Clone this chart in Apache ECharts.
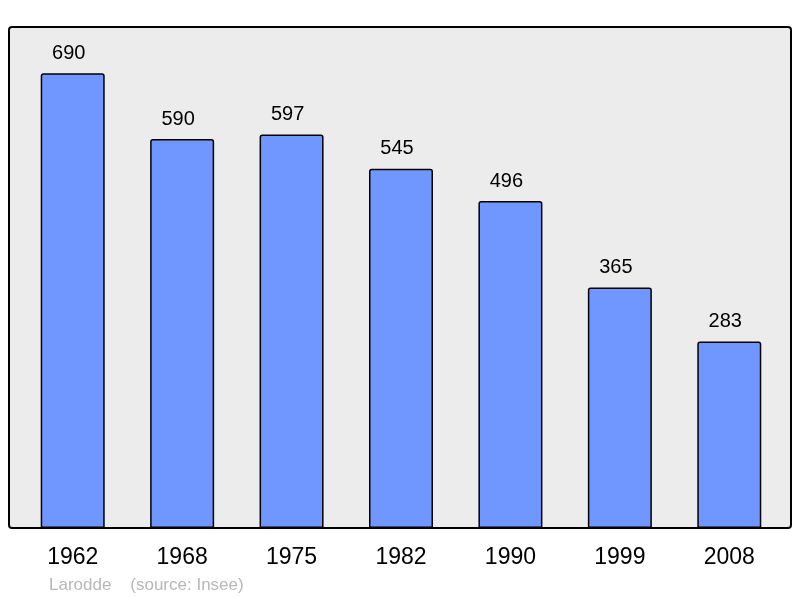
<!DOCTYPE html>
<html>
<head>
<meta charset="utf-8">
<script src="https://cdn.jsdelivr.net/npm/echarts@6/dist/echarts.min.js"></script>
<style>
html, body { margin: 0; padding: 0; background: #fff; }
#plot { width: 800px; height: 598px; }
</style>
</head>
<body>
<div id="plot"></div>
<script>
var years = ['1962', '1968', '1975', '1982', '1990', '1999', '2008'];
var population = [690, 590, 597, 545, 496, 365, 283];

var option = {
	animation: false,
	backgroundColor: '#ffffff',
	grid: {
		left: 18,
		right: 16,
		top: 27,
		bottom: 70
	},
	graphic: [
		{
			type: 'rect',
			z: -1,
			shape: { x: 9, y: 27, width: 782, height: 501, r: 3 },
			style: { fill: '#ececec', stroke: '#000', lineWidth: 2 }
		},
		{
			type: 'text',
			left: 49,
			top: 577,
			style: {
				text: 'Larodde    (source: Insee)',
				fill: '#b8b8b8',
				font: '17px "Liberation Sans", Arial, sans-serif'
			}
		}
	],
	xAxis: {
		type: 'category',
		data: years,
		axisLine: { show: false },
		axisTick: { show: false },
		axisLabel: {
			color: '#000',
			fontSize: 23,
			fontFamily: 'Liberation Sans',
			margin: 18
		}
	},
	yAxis: {
		type: 'value',
		min: 0,
		max: 760,
		show: false,
		splitLine: { show: false }
	},
	series: [
		{
			type: 'bar',
			data: population,
			barWidth: 64,
			itemStyle: {
				color: '#7097ff',
				borderColor: '#000',
				borderWidth: 1.5,
				borderRadius: [2, 2, 0, 0]
			},
			label: {
				show: true,
				position: 'top',
				distance: 10,
				offset: [-4, 0],
				color: '#000',
				fontSize: 20,
				fontFamily: 'Liberation Sans'
			}
		}
	]
};

var myChart = echarts.init(document.getElementById('plot'));
myChart.setOption(option);
</script>
</body>
</html>
